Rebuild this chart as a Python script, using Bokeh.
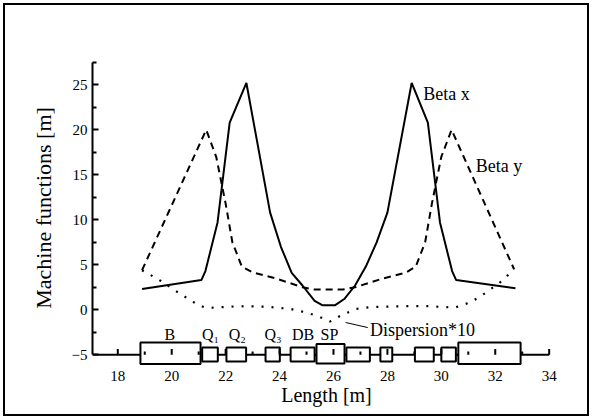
from bokeh.plotting import figure
from bokeh.models import FixedTicker, Range1d
from bokeh.core.properties import value
from bokeh.embed import file_html
from bokeh.resources import INLINE

FONT = "Liberation Serif"

# ---- data ----
beta_x_s = [18.9, 21.1, 21.25, 21.7, 22.15, 22.77, 23.65, 24.05, 24.45, 24.85, 25.3, 25.6,
            26.05, 26.4, 26.8, 27.2, 27.6, 28.0, 28.9, 29.5, 29.95, 30.4, 30.55, 32.75]
beta_x_v = [2.3, 3.3, 4.3, 9.7, 20.8, 25.2, 10.8, 7.0, 4.1, 2.7, 1.0, 0.5,
            0.5, 1.2, 2.7, 4.8, 7.5, 10.8, 25.2, 20.8, 9.7, 4.3, 3.3, 2.4]

beta_y_s = [18.9, 21.28, 21.65, 22.0, 22.25, 22.6, 23.0, 23.9, 24.85, 25.3,
            26.35, 26.8, 27.8, 28.7, 29.05, 29.4, 29.65, 30.0, 30.38, 32.7]
beta_y_v = [4.4, 20.0, 17.0, 11.8, 7.5, 4.8, 4.15, 3.45, 2.5, 2.25,
            2.25, 2.5, 3.45, 4.15, 4.8, 7.5, 11.8, 17.0, 20.0, 4.5]

disp_s = [18.9, 19.6, 20.3, 21.0, 21.3, 22.5, 23.5, 24.4, 25.0, 25.5, 25.87, 26.3,
          26.85, 27.4, 28.5, 29.5, 30.5, 31.1, 31.6, 32.2, 32.7]
disp_v = [4.4, 3.2, 1.8, 0.5, 0.2, 0.4, 0.35, 0.1, -0.3, -0.8, -1.3, -0.6,
          0.1, 0.3, 0.4, 0.4, 0.25, 0.85, 1.8, 3.1, 4.5]

# magnets on the beam line (left, right, bottom, top)
mag_left = [18.84, 21.13, 22.03, 23.48, 24.41, 25.37, 26.48, 27.74, 29.02, 30.0, 30.63]
mag_right = [21.07, 21.71, 22.76, 24.01, 25.30, 26.41, 27.35, 28.18, 29.72, 30.54, 32.94]
mag_bottom = [-6.03, -5.75, -5.75, -5.75, -5.75, -5.97, -5.75, -5.75, -5.75, -5.75, -6.03]
mag_top = [-3.63, -4.2, -4.2, -4.2, -4.2, -3.81, -4.2, -4.2, -4.2, -4.2, -3.63]

mag_names = ["B", "Q\u2081", "Q\u2082", "Q\u2083", "DB", "SP"]
mag_name_x = [19.93, 21.44, 22.43, 23.76, 24.87, 25.85]
mag_name_y = [-2.75, -2.75, -2.75, -2.75, -2.75, -2.75]

curve_names = ["Beta x", "Beta y", "Dispersion*10"]
curve_name_x = [29.33, 31.28, 27.35]
curve_name_y = [24.0, 16.0, -2.2]
leader_x = [26.45, 27.27]
leader_y = [-1.41, -1.97]

x_major = [18, 20, 22, 24, 26, 28, 30, 32, 34]
x_minor = [19, 21, 23, 25, 27, 29, 31, 33]
y_major = [-5, 0, 5, 10, 15, 20, 25]
y_minor = [-2.5, 2.5, 7.5, 12.5, 17.5, 22.5, 27.5]
beamline_y = -5
beamline_x = [17.062, 34.0]

p = figure(width=592, height=419, output_backend="svg", toolbar_location=None,
           x_range=Range1d(17.062, 34.42), y_range=Range1d(-6.41, 29.03),
           min_border_left=92, min_border_right=32, min_border_top=48, min_border_bottom=52)
# page frame: a black ring 3..5 px inside the edge, seen through transparent fills
p.styles = {"background-color": "white",
            "box-shadow": "inset 0 0 0 3px white, inset 0 0 0 5px black"}
p.xgrid.visible = False
p.ygrid.visible = False
p.outline_line_color = None
p.background_fill_color = None
p.border_fill_color = None

# y axis
ya = p.yaxis[0]
ya.ticker = FixedTicker(ticks=y_major, minor_ticks=y_minor)
ya.bounds = (-5, 27.5)
ya.axis_line_width = 2
ya.axis_line_color = "black"
ya.major_tick_in = 6
ya.major_tick_out = 0
ya.minor_tick_in = 4
ya.minor_tick_out = 0
ya.major_tick_line_width = 2
ya.minor_tick_line_width = 2
ya.major_label_standoff = 5
ya.major_label_text_font = FONT
ya.major_label_text_font_size = "15px"
ya.major_label_text_color = "black"
ya.axis_label = "Machine functions [m]"
ya.axis_label_text_font = FONT
ya.axis_label_text_font_style = "normal"
ya.axis_label_text_font_size = "22px"
ya.axis_label_text_color = "black"
ya.axis_label_standoff = 13

# x axis (labels only; the drawn axis line sits at y=-5)
xa = p.xaxis[0]
xa.ticker = FixedTicker(ticks=x_major, minor_ticks=[])
xa.axis_line_color = None
xa.major_tick_line_color = None
xa.minor_tick_line_color = None
xa.major_label_standoff = -3
xa.major_label_text_font = FONT
xa.major_label_text_font_size = "15px"
xa.major_label_text_color = "black"
xa.axis_label = "Length [m]"
xa.axis_label_text_font = FONT
xa.axis_label_text_font_style = "normal"
xa.axis_label_text_font_size = "20px"
xa.axis_label_text_color = "black"
xa.axis_label_standoff = 0

# beam line (x axis line at y = -5)
p.segment(x0=[beamline_x[0]], y0=[beamline_y], x1=[beamline_x[1]], y1=[beamline_y],
          line_color="black", line_width=2)

# magnets
p.quad(left=mag_left, right=mag_right, bottom=mag_bottom, top=mag_top,
       fill_color="white", line_color="black", line_width=2)

# ticks on the beam line (pointing up)
p.segment(x0=x_major, y0=[beamline_y] * len(x_major), x1=x_major,
          y1=[beamline_y + 0.65] * len(x_major), line_color="black", line_width=2)
p.segment(x0=x_minor, y0=[beamline_y] * len(x_minor), x1=x_minor,
          y1=[beamline_y + 0.37] * len(x_minor), line_color="black", line_width=2)

# curves
p.line(beta_x_s, beta_x_v, line_color="black", line_width=2)
p.line(beta_y_s, beta_y_v, line_color="black", line_width=2, line_dash="7 5")
p.line(disp_s, disp_v, line_color="black", line_width=2.2, line_dash="2 8")

# labels
p.text(x=curve_name_x, y=curve_name_y, text=curve_names, text_font=value(FONT),
       text_font_size="18px", text_color="black", text_baseline="middle", text_align="left")
p.line(leader_x, leader_y, line_color="black", line_width=1)
p.text(x=mag_name_x, y=mag_name_y, text=mag_names, text_font=value(FONT),
       text_font_size="16px", text_color="black", text_baseline="middle", text_align="center")

open("out.html", "w").write(file_html(p, INLINE))
